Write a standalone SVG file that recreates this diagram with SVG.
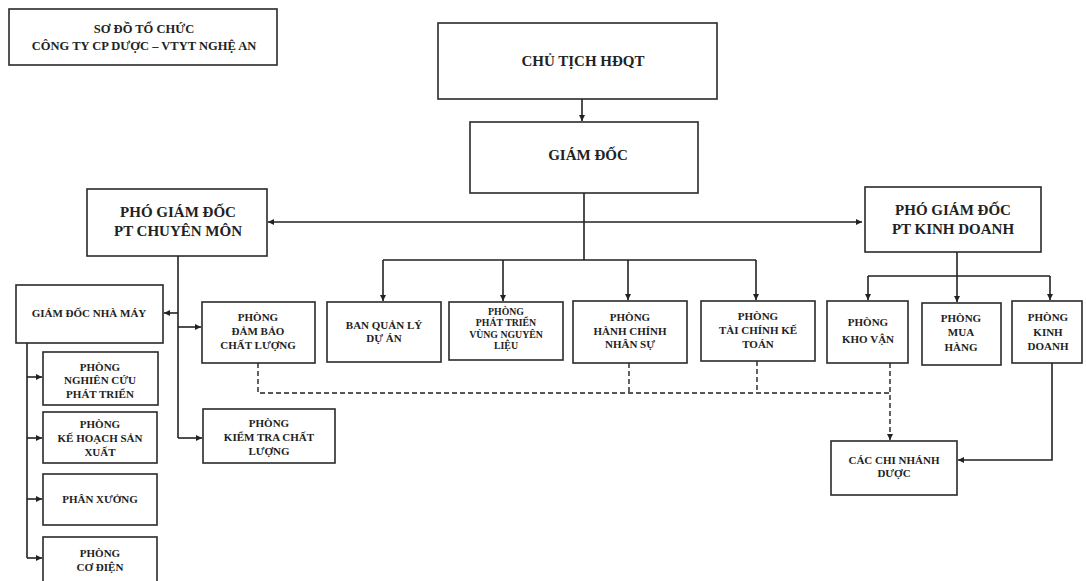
<svg xmlns="http://www.w3.org/2000/svg" width="1086" height="581" viewBox="0 0 1086 581">
<defs>
<marker id="ah" viewBox="0 0 6 6" refX="6" refY="3" markerWidth="6" markerHeight="6" markerUnits="userSpaceOnUse" orient="auto-start-reverse">
<path d="M0,0 L6,3 L0,6 z" fill="#222"/>
</marker>
<style>
rect{fill:#fff;stroke:#2a2a2a;stroke-width:1.6}
text{font-family:"Liberation Serif","DejaVu Serif",serif;font-weight:bold;fill:#222;text-anchor:middle;dominant-baseline:central}
.s{font-size:11px}
.m{font-size:15px}
.t{font-size:12.5px}
.xs{font-size:9.8px}
#connectors path{fill:none;stroke:#222;stroke-width:1.6}
#connectors .d{stroke-dasharray:5 3;stroke-width:1.4}
#connectors .a{marker-end:url(#ah)}
</style>
</defs>
<g id="connectors">
<path class="a" d="M582,99 V121"/>
<path d="M584,193 V260 M383,260 H756"/>
<path class="a" d="M383,260 V301"/>
<path class="a" d="M503,260 V301"/>
<path class="a" d="M628,260 V300"/>
<path class="a" d="M756,260 V300"/>
<path d="M268,222 H862" marker-start="url(#ah)" marker-end="url(#ah)"/>
<path d="M178,256 V438"/>
<path class="a" d="M178,313 H164"/>
<path class="a" d="M178,327 H201"/>
<path class="a" d="M178,438 H202"/>
<path d="M27,343 V558"/>
<path class="a" d="M27,377 H42"/>
<path class="a" d="M27,438 H42"/>
<path class="a" d="M27,499 H42"/>
<path class="a" d="M27,558 H42"/>
<path d="M957,252 V276 M868,276 H1050"/>
<path class="a" d="M868,276 V300"/>
<path class="a" d="M957,276 V302"/>
<path class="a" d="M1050,276 V300"/>
<path class="a" d="M1052,363 V460 H958"/>
<path class="d" d="M258,363 V393 H890"/>
<path class="d" d="M629,363 V393"/>
<path class="d" d="M757,361 V393"/>
<path class="d a" d="M890,363 V440"/>
</g>
<g id="title">
<rect x="9" y="9" width="268" height="56"/>
<text class="t" x="144" y="29">SƠ ĐỒ TỔ CHỨC</text>
<text class="t" x="144" y="46">CÔNG TY CP DƯỢC – VTYT NGHỆ AN</text>
</g>
<g id="chu-tich">
<rect x="438" y="23" width="279" height="76"/>
<text class="m" x="583" y="61">CHỦ TỊCH HĐQT</text>
</g>
<g id="giam-doc">
<rect x="470" y="122" width="228" height="71"/>
<text class="m" x="588" y="155">GIÁM ĐỐC</text>
</g>
<g id="pgd-chuyen-mon">
<rect x="87" y="189" width="180" height="67"/>
<text class="m" x="178" y="212">PHÓ GIÁM ĐỐC</text>
<text class="m" x="178" y="231">PT CHUYÊN MÔN</text>
</g>
<g id="pgd-kinh-doanh">
<rect x="865" y="187" width="176" height="65"/>
<text class="m" x="953" y="210">PHÓ GIÁM ĐỐC</text>
<text class="m" x="953" y="229">PT KINH DOANH</text>
</g>
<g id="gd-nha-may">
<rect x="16" y="285" width="147" height="58"/>
<text class="s" x="89" y="313">GIÁM ĐỐC NHÀ MÁY</text>
</g>
<g id="p-nghien-cuu">
<rect x="43" y="352" width="115" height="53"/>
<text class="s" x="100" y="367">PHÒNG</text>
<text class="s" x="100" y="380">NGHIÊN CỨU</text>
<text class="s" x="100" y="394">PHÁT TRIỂN</text>
</g>
<g id="p-ke-hoach">
<rect x="43" y="412" width="114" height="51"/>
<text class="s" x="100" y="424">PHÒNG</text>
<text class="s" x="100" y="438">KẾ HOẠCH SẢN</text>
<text class="s" x="100" y="452">XUẤT</text>
</g>
<g id="phan-xuong">
<rect x="43" y="474" width="114" height="51"/>
<text class="s" x="100" y="499">PHÂN XƯỞNG</text>
</g>
<g id="p-co-dien">
<rect x="43" y="537" width="114" height="50"/>
<text class="s" x="100" y="553">PHÒNG</text>
<text class="s" x="100" y="567">CƠ ĐIỆN</text>
</g>
<g id="p-dam-bao">
<rect x="202" y="302" width="113" height="61"/>
<text class="s" x="258" y="317">PHÒNG</text>
<text class="s" x="258" y="331">ĐẢM BẢO</text>
<text class="s" x="258" y="345">CHẤT LƯỢNG</text>
</g>
<g id="p-kiem-tra">
<rect x="203" y="409" width="132" height="54"/>
<text class="s" x="269" y="423">PHÒNG</text>
<text class="s" x="269" y="437">KIỂM TRA CHẤT</text>
<text class="s" x="269" y="451">LƯỢNG</text>
</g>
<g id="ban-qlda">
<rect x="327" y="302" width="114" height="60"/>
<text class="s" x="384" y="325">BAN QUẢN LÝ</text>
<text class="s" x="384" y="338">DỰ ÁN</text>
</g>
<g id="p-phat-trien">
<rect x="449" y="302" width="114" height="58"/>
<text class="xs" x="506" y="311">PHÒNG</text>
<text class="xs" x="506" y="322">PHÁT TRIỂN</text>
<text class="xs" x="506" y="334">VÙNG NGUYÊN</text>
<text class="xs" x="506" y="345">LIỆU</text>
</g>
<g id="p-hcns">
<rect x="573" y="301" width="114" height="62"/>
<text class="s" x="630" y="317">PHÒNG</text>
<text class="s" x="630" y="331">HÀNH CHÍNH</text>
<text class="s" x="630" y="344">NHÂN SỰ</text>
</g>
<g id="p-tckt">
<rect x="701" y="301" width="114" height="60"/>
<text class="s" x="758" y="316">PHÒNG</text>
<text class="s" x="758" y="330">TÀI CHÍNH KẾ</text>
<text class="s" x="758" y="344">TOÁN</text>
</g>
<g id="p-kho-van">
<rect x="827" y="301" width="81" height="62"/>
<text class="s" x="868" y="322">PHÒNG</text>
<text class="s" x="868" y="339">KHO VẬN</text>
</g>
<g id="p-mua-hang">
<rect x="922" y="303" width="79" height="62"/>
<text class="s" x="961" y="318">PHÒNG</text>
<text class="s" x="961" y="332">MUA</text>
<text class="s" x="961" y="347">HÀNG</text>
</g>
<g id="p-kinh-doanh">
<rect x="1012" y="301" width="70" height="62"/>
<text class="s" x="1048" y="317">PHÒNG</text>
<text class="s" x="1048" y="332">KINH</text>
<text class="s" x="1048" y="346">DOANH</text>
</g>
<g id="chi-nhanh">
<rect x="831" y="441" width="126" height="54"/>
<text class="s" x="894" y="460">CÁC CHI NHÁNH</text>
<text class="s" x="894" y="473">DƯỢC</text>
</g>
</svg>
